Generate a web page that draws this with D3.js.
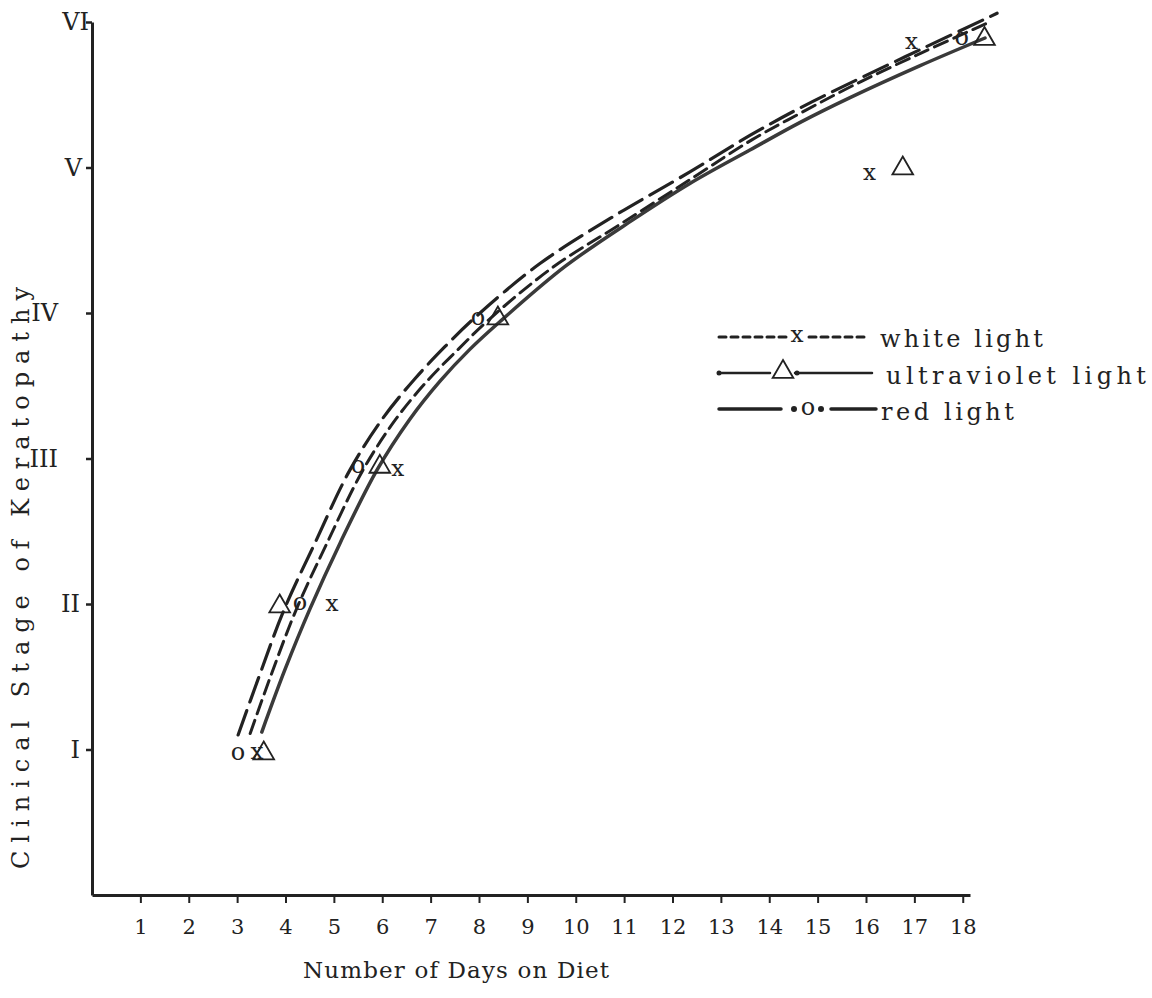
<!DOCTYPE html>
<html>
<head>
<meta charset="utf-8">
<script src="https://cdn.jsdelivr.net/npm/d3@7"></script>
<style>
  html, body { margin: 0; padding: 0; background: #fff; }
  svg { display: block; }
  text { font-family: "DejaVu Serif", "Liberation Serif", serif; fill: #222; }
</style>
</head>
<body>
<svg id="chart" width="1152" height="998"></svg>
<script>
// ---------------- data ----------------
const stageLabels = ["I", "II", "III", "IV", "V", "VI"];
const stageValues = [1, 2, 3, 4, 5, 6];
const dayTicks = [1, 2, 3, 4, 5, 6, 7, 8, 9, 10, 11, 12, 13, 14, 15, 16, 17, 18];

// observed points (day on which each stage was reached); null = not visible
const whiteDays   = [3.41, 4.96, 6.32, null, 16.07, 16.94];
const whiteStages = [0.98, 2.00, 2.93, null, 4.96, 5.86];
const uvDays      = [3.55, 3.88, 5.95, 8.39, 16.76, 18.45];
const uvStages    = [0.98, 1.99, 2.95, 3.97, 5.00, 5.89];
const redDays     = [3.02, 4.30, 5.50, 7.98, null, 17.98];
const redStages   = [0.98, 2.01, 2.95, 3.97, null, 5.89];

// fitted curves as drawn
const uvCurveDays    = [3.51, 3.99, 4.51, 5.13, 5.89, 6.57, 7.19, 7.81, 8.43, 9.78, 11.18, 12.36, 13.60, 14.64, 15.67, 17.12, 18.46];
const uvCurveStages  = [1.12, 1.55, 1.97, 2.42, 2.92, 3.27, 3.53, 3.75, 3.94, 4.32, 4.64, 4.89, 5.12, 5.31, 5.48, 5.70, 5.89];
const redCurveDays   = [3.02, 3.43, 3.97, 4.61, 5.33, 6.02, 6.68, 7.30, 7.92, 9.26, 10.71, 12.36, 13.60, 14.64, 15.67, 17.12, 18.71];
const redCurveStages = [1.10, 1.48, 1.96, 2.42, 2.92, 3.28, 3.55, 3.77, 3.97, 4.34, 4.65, 4.97, 5.22, 5.41, 5.58, 5.81, 6.06];
const whiteCurveDays   = [3.27, 3.70, 4.22, 4.86, 5.60, 6.28, 6.95, 7.57, 8.19, 9.51, 10.92, 12.47, 13.64, 14.68, 15.71, 17.16, 18.56];
const whiteCurveStages = [1.11, 1.51, 1.96, 2.42, 2.92, 3.27, 3.54, 3.75, 3.95, 4.31, 4.61, 4.94, 5.19, 5.38, 5.56, 5.79, 6.00];

const legendLabels = ["white light", "ultraviolet light", "red light"];

// ---------------- drawing ----------------
const svg = d3.select("#chart");
const ink = "#222";

const x = d3.scaleLinear().domain([0, 18.15]).range([92, 970]);
const y = d3.scaleLinear().domain([0, 6]).range([895, 22]);

// x axis
const xAxis = svg.append("g")
  .attr("transform", `translate(0,${y(0)})`)
  .call(d3.axisBottom(x).tickValues(dayTicks).tickSize(8).tickSizeOuter(0).tickPadding(16));
xAxis.select(".domain").attr("stroke", ink).attr("stroke-width", 3);
xAxis.selectAll(".tick line").attr("stroke", ink).attr("stroke-width", 2);
xAxis.selectAll(".tick text")
  .attr("font-family", "DejaVu Serif")
  .attr("font-size", 21).attr("fill", ink);

// y axis
const labelRight = { "I": 80, "II": 80, "III": 58, "IV": 58, "V": 82, "VI": 89 };
const yAxis = svg.append("g")
  .attr("transform", `translate(${x(0)},0)`)
  .call(d3.axisLeft(y).tickValues(stageValues).tickFormat((d, i) => stageLabels[i])
    .tickSize(6).tickSizeOuter(0).tickPadding(8));
yAxis.select(".domain").attr("stroke", ink).attr("stroke-width", 3);
yAxis.selectAll(".tick line").attr("stroke", ink).attr("stroke-width", 2.5);
yAxis.selectAll(".tick text")
  .attr("font-family", "DejaVu Serif")
  .attr("font-size", 24).attr("fill", ink)
  .attr("x", (d, i) => labelRight[stageLabels[i]] - x(0));

// axis titles
svg.append("text")
  .attr("x", 456).attr("y", 978)
  .attr("text-anchor", "middle")
  .attr("font-size", 23)
  .attr("textLength", 306).attr("lengthAdjust", "spacing")
  .text("Number of Days on Diet");

svg.append("text")
  .attr("transform", `translate(29,${578}) rotate(-90)`)
  .attr("text-anchor", "middle")
  .attr("font-size", 24)
  .attr("textLength", 582).attr("lengthAdjust", "spacing")
  .text("Clinical Stage of Keratopathy");

// curves
const line = d3.line().x(d => x(d[0])).y(d => y(d[1])).curve(d3.curveCatmullRom.alpha(0.5));
const zip = (a, b) => a.map((v, i) => [v, b[i]]);

svg.append("path").datum(zip(uvCurveDays, uvCurveStages))
  .attr("d", line).attr("fill", "none").attr("stroke", "#3a3a3a")
  .attr("stroke-width", 3.5).attr("stroke-linecap", "round");
svg.append("path").datum(zip(whiteCurveDays, whiteCurveStages))
  .attr("d", line).attr("fill", "none").attr("stroke", ink)
  .attr("stroke-width", 3).attr("stroke-dasharray", "14,7").attr("stroke-linecap", "round");
svg.append("path").datum(zip(redCurveDays, redCurveStages))
  .attr("d", line).attr("fill", "none").attr("stroke", ink)
  .attr("stroke-width", 3.2).attr("stroke-dasharray", "26,9").attr("stroke-linecap", "round");

// markers
function drawX(g, cx, cy) {
  g.append("text").attr("x", cx).attr("y", cy).attr("dy", "0.3em")
    .attr("text-anchor", "middle").attr("font-size", 23).text("x");
}
function drawO(g, cx, cy) {
  g.append("text").attr("x", cx).attr("y", cy).attr("dy", "0.3em")
    .attr("text-anchor", "middle").attr("font-size", 24).text("o");
}
const tri = d3.symbol().type(d3.symbolTriangle).size(185);
function drawT(g, cx, cy) {
  g.append("path").attr("d", tri).attr("transform", `translate(${cx},${cy + 1})`)
    .attr("fill", "none").attr("stroke", ink).attr("stroke-width", 1.8);
}
const markers = svg.append("g");
zip(whiteDays, whiteStages).filter(d => d[0] != null).forEach(d => drawX(markers, x(d[0]), y(d[1])));
zip(redDays, redStages).filter(d => d[0] != null).forEach(d => drawO(markers, x(d[0]), y(d[1])));
zip(uvDays, uvStages).filter(d => d[0] != null).forEach(d => drawT(markers, x(d[0]), y(d[1])));

// legend
const lg = svg.append("g");
function seg(x1, x2, yy, w, dash) {
  lg.append("line").attr("x1", x1).attr("x2", x2).attr("y1", yy).attr("y2", yy)
    .attr("stroke", ink).attr("stroke-width", w).attr("stroke-dasharray", dash || null)
    .attr("stroke-linecap", "round");
}
// row 1: white light
seg(719, 786, 337, 3, "7,5");
seg(809, 868, 337, 3, "7,5");
drawX(lg, 797, 335);
// row 2: ultraviolet light
seg(719, 770, 373, 2.5);
seg(795, 872, 373, 2.5);
lg.append("circle").attr("cx", 719).attr("cy", 373).attr("r", 2.5).attr("fill", ink);
lg.append("circle").attr("cx", 797).attr("cy", 373).attr("r", 2.5).attr("fill", ink);
drawT(lg, 783, 371);
// row 3: red light
seg(719, 781, 409, 3.5);
seg(831, 876, 409, 3.5);
lg.append("circle").attr("cx", 794).attr("cy", 409).attr("r", 3).attr("fill", ink);
lg.append("circle").attr("cx", 821).attr("cy", 409).attr("r", 3).attr("fill", ink);
drawO(lg, 808, 408);

const textX = [880, 886, 881];
const textY = [347, 384, 420];
const textLen = [163, 260, 133];
legendLabels.forEach((t, i) => {
  lg.append("text").attr("x", textX[i]).attr("y", textY[i])
    .attr("font-size", 24)
    .attr("textLength", textLen[i]).attr("lengthAdjust", "spacing")
    .text(t);
});
</script>
</body>
</html>
